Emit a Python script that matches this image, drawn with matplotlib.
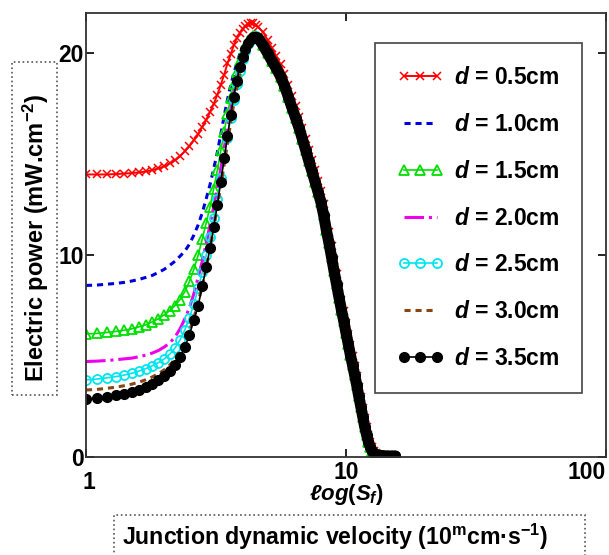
import matplotlib
matplotlib.use("Agg")
import matplotlib.pyplot as plt
import matplotlib.transforms as mtransforms
from matplotlib.patches import Rectangle

# fonts: Arial-like bold everywhere, bold italic for math variables
plt.rcParams['font.family'] = ['Liberation Sans', 'DejaVu Sans']
plt.rcParams['font.weight'] = 'bold'
plt.rcParams['mathtext.fontset'] = 'custom'
plt.rcParams['mathtext.rm'] = 'Liberation Sans:bold'
plt.rcParams['mathtext.it'] = 'Liberation Sans:italic:bold'
plt.rcParams['mathtext.bf'] = 'Liberation Sans:bold'

# Sf values, rising part (shared grid)
Sf_rise = [1.0, 1.1, 1.2, 1.3, 1.4, 1.5, 1.6, 1.7, 1.8, 1.9, 2.0, 2.1,
           2.2, 2.3, 2.4, 2.5, 2.6, 2.7, 2.8, 2.9, 3.0, 3.1, 3.2, 3.3,
           3.4, 3.5, 3.6, 3.7, 3.8, 3.9, 4.0, 4.1, 4.2, 4.3, 4.4, 4.5]

# electric power on the rising part, one list per thickness d
P_d05 = [14.0, 14.0, 14.0, 14.02, 14.04, 14.07, 14.1, 14.15, 14.22, 14.3, 14.4, 14.55,
         14.7, 14.9, 15.15, 15.4, 15.7, 16.0, 16.35, 16.7, 17.1, 17.5, 17.95, 18.45,
         18.95, 19.5, 19.95, 20.4, 20.75, 21.0, 21.2, 21.35, 21.45, 21.5, 21.48, 21.4]
P_d10 = [8.5, 8.52, 8.56, 8.6, 8.65, 8.72, 8.8, 8.9, 9.0, 9.15, 9.3, 9.5,
         9.7, 9.95, 10.2, 10.55, 11.0, 11.5, 12.1, 12.8, 13.5, 14.3, 15.1, 16.0,
         16.9, 17.7, 18.4, 19.0, 19.5, 19.95, 20.3, 20.55, 20.75, 20.85, 20.9, 20.85]
P_d15 = [6.1, 6.12, 6.17, 6.22, 6.28, 6.35, 6.45, 6.55, 6.7, 6.85, 7.05, 7.25,
         7.5, 7.8, 8.2, 8.7, 9.3, 10.0, 10.8, 11.6, 12.4, 13.3, 14.2, 15.2,
         16.1, 17.0, 17.8, 18.5, 19.1, 19.6, 20.0, 20.35, 20.6, 20.75, 20.85, 20.85]
P_d20 = [4.73, 4.75, 4.78, 4.82, 4.86, 4.9, 4.97, 5.05, 5.15, 5.28, 5.45, 5.65,
         5.95, 6.35, 6.85, 7.4, 8.1, 8.9, 9.7, 10.6, 11.5, 12.4, 13.3, 14.3,
         15.3, 16.3, 17.2, 18.0, 18.7, 19.3, 19.8, 20.2, 20.5, 20.7, 20.8, 20.85]
P_d25 = [3.82, 3.86, 3.92, 3.98, 4.06, 4.15, 4.26, 4.38, 4.52, 4.68, 4.86, 5.1,
         5.4, 5.8, 6.3, 6.9, 7.6, 8.35, 9.15, 10.0, 10.9, 11.85, 12.8, 13.8,
         14.8, 15.8, 16.8, 17.7, 18.5, 19.15, 19.7, 20.1, 20.45, 20.65, 20.8, 20.85]
P_d30 = [3.32, 3.35, 3.4, 3.46, 3.53, 3.61, 3.71, 3.83, 3.97, 4.13, 4.32, 4.56,
         4.86, 5.25, 5.7, 6.25, 6.9, 7.65, 8.5, 9.4, 10.35, 11.35, 12.4, 13.45,
         14.5, 15.55, 16.55, 17.5, 18.3, 19.0, 19.6, 20.05, 20.4, 20.65, 20.8, 20.85]
P_d35 = [2.88, 2.92, 2.98, 3.05, 3.13, 3.22, 3.33, 3.46, 3.62, 3.8, 4.0, 4.25,
         4.55, 4.95, 5.45, 6.05, 6.8, 7.5, 8.45, 9.4, 10.35, 11.4, 12.5, 13.65,
         14.8, 15.9, 16.95, 17.85, 18.65, 19.3, 19.8, 20.2, 20.5, 20.7, 20.8, 20.8]

# falling part: all curves merge (d = 0.5cm sits slightly higher)
Sf_fall = [4.6, 4.8, 5.0, 5.2, 5.4, 5.6, 5.8, 6.0, 6.2, 6.4, 6.6, 6.8,
           7.0, 7.2, 7.4, 7.6, 7.8, 8.0, 8.2, 8.4, 8.6, 8.8, 9.0, 9.2,
           9.4, 9.6, 9.8, 10.0, 10.2, 10.4, 10.6, 10.8, 11.0, 11.2, 11.4, 11.6,
           11.8, 12.0, 12.2, 12.4, 12.6, 12.8, 13.0, 13.5, 14.0, 14.5, 15.0, 15.5]
P_fall = [20.75, 20.4, 20.0, 19.6, 19.25, 18.85, 18.4, 17.85, 17.3, 16.8, 16.3, 15.75,
          15.2, 14.65, 14.15, 13.65, 13.15, 12.65, 12.0, 11.25, 10.6, 9.9, 9.2, 8.55,
          7.9, 7.3, 6.75, 6.15, 5.6, 5.05, 4.55, 4.05, 3.55, 3.0, 2.5, 2.0,
          1.5, 1.1, 0.75, 0.5, 0.3, 0.18, 0.12, 0.08, 0.06, 0.05, 0.05, 0.05]
P_fall_d05 = [21.3, 21.05, 20.65, 20.25, 19.85, 19.45, 19.0, 18.45, 17.9, 17.4, 16.85, 16.3,
              15.75, 15.2, 14.7, 14.2, 13.7, 13.2, 12.55, 11.8, 11.15, 10.45, 9.75, 9.05,
              8.4, 7.8, 7.25, 6.65, 6.1, 5.55, 5.0, 4.5, 4.0, 3.45, 2.95, 2.45,
              1.95, 1.5, 1.1, 0.75, 0.5, 0.3, 0.18, 0.1, 0.08, 0.06, 0.05, 0.05]

labels = ['0.5', '1.0', '1.5', '2.0', '2.5', '3.0', '3.5']

W, H = 609, 555
fig = plt.figure(figsize=(W / 100, H / 100), dpi=100)
ax = fig.add_axes([86 / W, 1 - 457 / H, 520 / W, 444 / H])

Sf = Sf_rise + Sf_fall
styles = [
    (P_d05 + P_fall_d05, dict(color='#ff0000', ls='-', lw=1.4, marker='x', ms=6, mew=1.1)),
    (P_d10 + P_fall, dict(color='#0000dd', ls=(0, (2, 1.6)), lw=2.2)),
    (P_d15 + P_fall, dict(color='#00e000', ls='-', lw=1.2, marker='^', ms=6.5, mfc='none', mew=1.3)),
    (P_d20 + P_fall, dict(color='#ee00ee', ls='-.', lw=2.2)),
    (P_d25 + P_fall, dict(color='#00e5ee', ls='-', lw=1.2, marker='o', ms=6.5, mfc='none', mew=1.3)),
    (P_d30 + P_fall, dict(color='#8b4513', ls=(0, (2, 1.6)), lw=2.2)),
    (P_d35 + P_fall, dict(color='black', ls='-', lw=1.2, marker='o', ms=7)),
]
for (P, kw), lab in zip(styles, labels):
    ax.plot(Sf, P, label=r'$d$ = ' + lab + 'cm', **kw)

# the black markers overlap into a solid band on the falling side
ax.plot([Sf_rise[-1]] + Sf_fall, [P_d35[-1]] + P_fall, color='black', lw=8,
        solid_capstyle='round', zorder=2.5)

ax.set_xscale('log')
ax.set_xlim(1, 100)
ax.set_ylim(0, 22)
ax.set_xticks([1, 10, 100])
ax.set_xticklabels(['1', '10', '100'])
ax.minorticks_off()
ax.set_yticks([0, 10, 20])
ax.tick_params(direction='in', length=6, width=1.2, top=True, right=True,
               labelsize=16.5)
ax.tick_params(axis='y', pad=1.5)
ax.tick_params(axis='x', pad=3)
xl = ax.get_xticklabels()
xl[-1].set_ha('right')
xl[0].set_transform(xl[0].get_transform() +
                    mtransforms.ScaledTranslation(2 / 72, -7 / 72, fig.dpi_scale_trans))
for s in ax.spines.values():
    s.set_linewidth(1.3)
    s.set_color('#333333')

leg = ax.legend(loc='upper right', bbox_to_anchor=(0.954, 0.932), borderaxespad=0,
                fontsize=16.5, numpoints=3, handlelength=2.0, handletextpad=0.45,
                labelspacing=1.04, borderpad=1.0, fancybox=False, framealpha=1)
leg.get_frame().set_edgecolor('#444444')
leg.get_frame().set_linewidth(1.2)

ax.text(0.5, -0.085, r'$\ell og(S_f)$', transform=ax.transAxes, ha='center',
        va='center', fontsize=16)

# dotted boxes around the axis titles
fig.patches.append(Rectangle((12 / W, 1 - 395 / H), 45 / W, 333 / H, transform=fig.transFigure,
                             fill=False, ec='#555555', ls=':', lw=1.2))
fig.text(36 / W, 1 - 238 / H, r'Electric power (mW.cm$^{-2}$)', rotation=90,
         ha='center', va='center', fontsize=17)
fig.patches.append(Rectangle((114 / W, 1 - 570 / H), 471 / W, 55 / H, transform=fig.transFigure,
                             fill=False, ec='#555555', ls=':', lw=1.2))
fig.text(335 / W, 1 - 537 / H, r'Junction dynamic velocity (10$^{\mathrm{m}}$cm·s$^{-1}$)',
         ha='center', va='center', fontsize=16.7)

fig.savefig('out.png', dpi=100)
